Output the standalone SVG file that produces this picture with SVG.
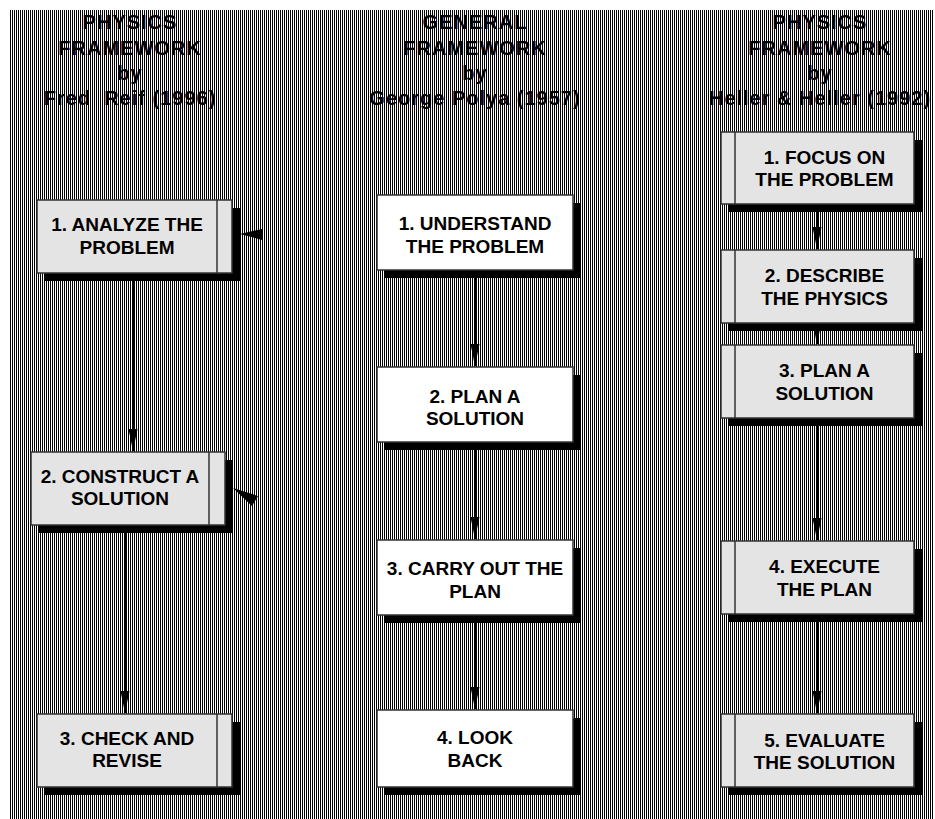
<svg xmlns="http://www.w3.org/2000/svg" width="935" height="819" viewBox="0 0 935 819">
<defs>
<pattern id="stripes" width="2" height="10" patternUnits="userSpaceOnUse">
<rect width="2" height="10" fill="#fff"/>
<rect x="0" width="1" height="10" fill="#000"/>
</pattern>
<marker id="ah" viewBox="0 -5 22 10" refX="22" refY="0" markerWidth="22" markerHeight="10" markerUnits="userSpaceOnUse" orient="auto">
<path d="M0,-4.5 L22,0 L0,4.5 z" fill="#000"/>
</marker>
<style>
.title{font-family:"Liberation Sans",Arial,sans-serif;font-weight:bold;font-size:20px;letter-spacing:1px;text-anchor:middle;fill:#000}
.lbl{font-family:"Liberation Sans",Arial,sans-serif;font-weight:bold;font-size:19px;text-anchor:middle;fill:#000}
.shadow{fill:#000}
.gbox{fill:#e4e4e4;stroke:#333;stroke-width:1.5}
.wbox{fill:#fff;stroke:#333;stroke-width:1.5}
.div{stroke:#333;stroke-width:1.5}
.conn{stroke:#000;stroke-width:2;fill:none;marker-end:url(#ah)}
.head{fill:#000}
</style>
</defs>
<rect x="0" y="0" width="935" height="819" fill="#fff"/>
<rect x="10" y="10" width="923" height="809" fill="url(#stripes)"/>

<g id="titles">
<text class="title" x="130" y="29">PHYSICS</text>
<text class="title" x="130" y="55">FRAMEWORK</text>
<text class="title" x="130" y="80">by</text>
<text class="title" x="130" y="105" xml:space="preserve">Fred  Reif (1996)</text>
<text class="title" x="475" y="29">GENERAL</text>
<text class="title" x="475" y="55">FRAMEWORK</text>
<text class="title" x="475" y="80">by</text>
<text class="title" x="475" y="105">George Polya (1957)</text>
<text class="title" x="820" y="29">PHYSICS</text>
<text class="title" x="820" y="55">FRAMEWORK</text>
<text class="title" x="820" y="80">by</text>
<text class="title" x="820" y="105">Heller &amp; Heller (1992)</text>
</g>

<g id="connectors">
<path class="conn" d="M133,281 V451"/>
<path class="conn" d="M125,533 V713"/>
<path class="conn" d="M475,278 V366"/>
<path class="conn" d="M475,450 V539"/>
<path class="conn" d="M475,623 V709"/>
<path class="conn" d="M817,212 V249"/>
<path class="conn" d="M817,331 V344"/>
<path class="conn" d="M817,426 V540"/>
<path class="conn" d="M817,622 V713"/>
<polygon class="head" points="240,234 262,229 262,240"/>
<polygon class="head" points="233,488 258,496 252,506"/>
</g>

<g id="reif1">
<rect class="shadow" x="45" y="208" width="195" height="73"/>
<rect class="gbox" x="37" y="200" width="195" height="73"/>
<line class="div" x1="217" y1="200" x2="217" y2="273"/>
<text class="lbl" x="127" y="231">1. ANALYZE THE</text>
<text class="lbl" x="127" y="254">PROBLEM</text>
</g>
<g id="reif2">
<rect class="shadow" x="39" y="460" width="194" height="73"/>
<rect class="gbox" x="31" y="452" width="194" height="73"/>
<line class="div" x1="209" y1="452" x2="209" y2="525"/>
<text class="lbl" x="120" y="483">2. CONSTRUCT A</text>
<text class="lbl" x="120" y="505">SOLUTION</text>
</g>
<g id="reif3">
<rect class="shadow" x="45" y="722" width="195" height="73"/>
<rect class="gbox" x="37" y="714" width="195" height="73"/>
<line class="div" x1="217" y1="714" x2="217" y2="787"/>
<text class="lbl" x="127" y="745">3. CHECK AND</text>
<text class="lbl" x="127" y="767">REVISE</text>
</g>

<g id="polya1">
<rect class="shadow" x="385" y="203" width="196" height="75"/>
<rect class="wbox" x="377" y="195" width="196" height="75"/>
<text class="lbl" x="475" y="230">1. UNDERSTAND</text>
<text class="lbl" x="475" y="253">THE PROBLEM</text>
</g>
<g id="polya2">
<rect class="shadow" x="385" y="375" width="196" height="75"/>
<rect class="wbox" x="377" y="367" width="196" height="75"/>
<text class="lbl" x="475" y="403">2. PLAN A</text>
<text class="lbl" x="475" y="425">SOLUTION</text>
</g>
<g id="polya3">
<rect class="shadow" x="385" y="548" width="196" height="75"/>
<rect class="wbox" x="377" y="540" width="196" height="75"/>
<text class="lbl" x="475" y="575">3. CARRY OUT THE</text>
<text class="lbl" x="475" y="598">PLAN</text>
</g>
<g id="polya4">
<rect class="shadow" x="385" y="718" width="196" height="77"/>
<rect class="wbox" x="377" y="710" width="196" height="77"/>
<text class="lbl" x="475" y="744">4. LOOK</text>
<text class="lbl" x="475" y="767">BACK</text>
</g>

<g id="heller1">
<rect class="shadow" x="729" y="140" width="193" height="72"/>
<rect class="gbox" x="721" y="132" width="193" height="72"/>
<line class="div" x1="735" y1="132" x2="735" y2="204"/>
<text class="lbl" x="824.5" y="164">1. FOCUS ON</text>
<text class="lbl" x="824.5" y="186">THE PROBLEM</text>
</g>
<g id="heller2">
<rect class="shadow" x="729" y="258" width="193" height="73"/>
<rect class="gbox" x="721" y="250" width="193" height="73"/>
<line class="div" x1="735" y1="250" x2="735" y2="323"/>
<text class="lbl" x="824.5" y="282">2. DESCRIBE</text>
<text class="lbl" x="824.5" y="305">THE PHYSICS</text>
</g>
<g id="heller3">
<rect class="shadow" x="729" y="353" width="193" height="73"/>
<rect class="gbox" x="721" y="345" width="193" height="73"/>
<line class="div" x1="735" y1="345" x2="735" y2="418"/>
<text class="lbl" x="824.5" y="377">3. PLAN A</text>
<text class="lbl" x="824.5" y="400">SOLUTION</text>
</g>
<g id="heller4">
<rect class="shadow" x="729" y="549" width="193" height="73"/>
<rect class="gbox" x="721" y="541" width="193" height="73"/>
<line class="div" x1="735" y1="541" x2="735" y2="614"/>
<text class="lbl" x="824.5" y="573">4. EXECUTE</text>
<text class="lbl" x="824.5" y="596">THE PLAN</text>
</g>
<g id="heller5">
<rect class="shadow" x="729" y="722" width="193" height="73"/>
<rect class="gbox" x="721" y="714" width="193" height="73"/>
<line class="div" x1="735" y1="714" x2="735" y2="787"/>
<text class="lbl" x="824.5" y="747">5. EVALUATE</text>
<text class="lbl" x="824.5" y="769">THE SOLUTION</text>
</g>
</svg>
